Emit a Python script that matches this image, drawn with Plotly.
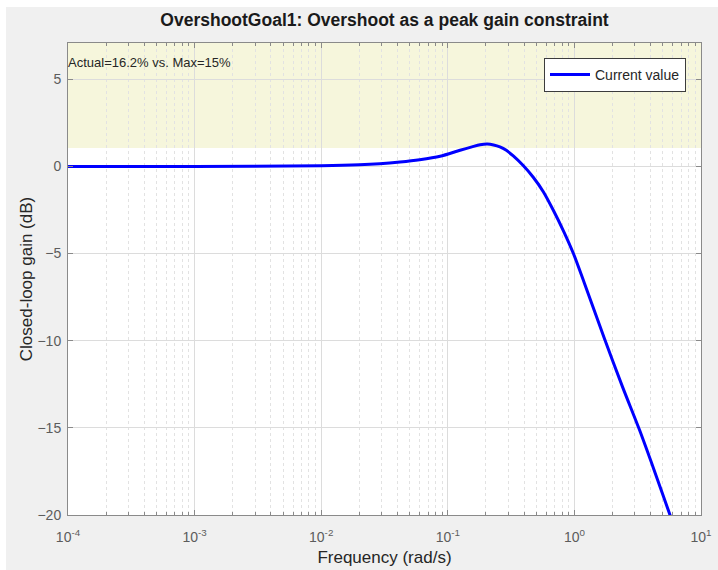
import plotly.graph_objects as go

# Closed-loop gain response (rad/s, dB)
freq = [1e-4, 1e-3, 0.01, 0.02, 0.029, 0.042, 0.06, 0.087, 0.125, 0.155, 0.18,
        0.205, 0.23, 0.258, 0.29, 0.329, 0.394, 0.473, 0.568, 0.68, 0.817, 0.98,
        1.2, 1.72, 2.4, 3.26, 4.3, 5.69, 7.0]
gain_db = [0.0, 0.0, 0.04, 0.09, 0.15, 0.25, 0.38, 0.58, 0.93, 1.12, 1.24,
           1.28, 1.23, 1.12, 0.92, 0.6, 0.05, -0.62, -1.45, -2.5, -3.68, -4.98,
           -6.7, -9.85, -12.65, -15.1, -17.5, -20.0, -21.8]

# Peak gain limit equivalent to the overshoot bound
max_gain_db = 1.06
y_top = 7.08

x_tickvals = [1e-4, 1e-3, 1e-2, 1e-1, 1e0, 1e1]
x_ticktext = ["10<sup>-4</sup>", "10<sup>-3</sup>", "10<sup>-2</sup>",
              "10<sup>-1</sup>", "10<sup>0</sup>", "10<sup>1</sup>"]
x_minorvals = [m * d for d in [1e-4, 1e-3, 1e-2, 1e-1, 1e0] for m in range(2, 10)]
y_tickvals = [-20, -15, -10, -5, 0, 5]

title_text = "OvershootGoal1: Overshoot as a peak gain constraint"
status_text = "Actual=16.2% vs. Max=15%"

fig = go.Figure()
fig.add_trace(go.Scatter(
    x=freq, y=gain_db, mode="lines", name="Current value",
    line=dict(color="#0000ff", width=3, shape="spline", smoothing=0.8),
))

grid = "#dcdcdc"
axis_col = "#8a8a8a"
font_fam = "Liberation Sans, Arial, sans-serif"
tick_font = dict(family=font_fam, size=14, color="#5c5c5c")

fig.update_layout(
    width=718, height=570,
    margin=dict(l=68, r=17, t=43, b=54.5),
    paper_bgcolor="#f0f0f0",
    plot_bgcolor="#ffffff",
    font=dict(family=font_fam, color="#262626"),
    title=dict(text="<b>" + title_text + "</b>", x=(68 + 633 / 2) / 718, xanchor="center",
               y=1 - 20 / 570, yanchor="middle",
               font=dict(size=17.5, color="#1a1a1a")),
    showlegend=True,
    legend=dict(x=(686 - 68) / 633, y=(515.5 - 58) / 472.5, xanchor="right", yanchor="top",
                bgcolor="#ffffff", bordercolor="#3c3c3c", borderwidth=1,
                font=dict(size=14, color="#262626"),
                itemwidth=40, tracegroupgap=0),
    xaxis=dict(
        type="log", range=[-4, 1], automargin=False,
        tickvals=x_tickvals, ticktext=x_ticktext, tickfont=tick_font,
        ticklabelstandoff=9,
        ticks="inside", ticklen=5, tickcolor=axis_col,
        showline=True, linecolor=axis_col, linewidth=1, mirror="allticks",
        showgrid=True, gridcolor=grid, gridwidth=1,
        minor=dict(tickmode="array", tickvals=x_minorvals,
                   ticks="inside", ticklen=3, tickcolor=axis_col,
                   showgrid=True, gridcolor="#e2e2e2", griddash="dot"),
        title=dict(text="Frequency (rad/s)", font=dict(size=17, color="#262626"),
                   standoff=7),
        zeroline=False,
    ),
    yaxis=dict(
        range=[-20, y_top], tickvals=y_tickvals, tickfont=tick_font, automargin=False,
        ticklabelstandoff=3,
        ticks="inside", ticklen=5, tickcolor=axis_col,
        showline=True, linecolor=axis_col, linewidth=1, mirror="allticks",
        showgrid=True, gridcolor=grid, gridwidth=1, zeroline=False,
        title=dict(text="Closed-loop gain (dB)", font=dict(size=17, color="#262626"),
                   standoff=0),
    ),
    shapes=[
        # shaded region above the allowed peak gain
        dict(type="rect", xref="paper", x0=0, x1=1, yref="y", y0=max_gain_db, y1=y_top,
             fillcolor="#f6f6dc", line=dict(width=0), layer="below"),
        # thin white window border on the top and left
        dict(type="rect", xref="paper", x0=-0.2, x1=1.1, yref="paper",
             y0=1 + (43 - 7) / 472.5, y1=1.2, fillcolor="#ffffff",
             line=dict(width=0), layer="above"),
        dict(type="rect", xref="paper", x0=-0.2, x1=-(68 - 6) / 633, yref="paper",
             y0=-0.2, y1=1.2, fillcolor="#ffffff", line=dict(width=0), layer="above"),
    ],
    annotations=[
        dict(text=status_text, xref="paper", yref="paper", x=0, y=1 - (62.5 - 43) / 472.5,
             xanchor="left", yanchor="middle", showarrow=False, xshift=-2,
             font=dict(size=13, color="#262626")),
    ],
)

fig.write_html("out.html")
